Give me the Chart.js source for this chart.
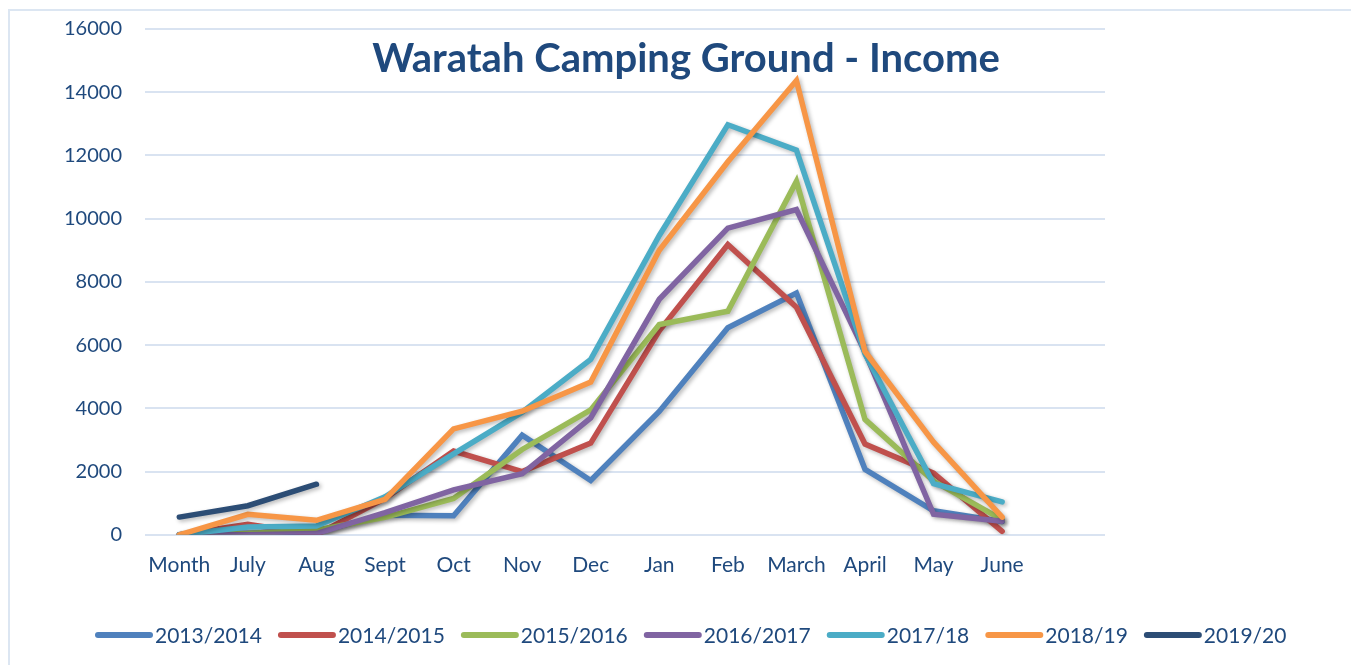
<!DOCTYPE html>
<html>
<head>
<meta charset="utf-8">
<script src="https://cdn.jsdelivr.net/npm/chart.js@4.4.1/dist/chart.umd.min.js"></script>
<style>
  html, body { margin: 0; padding: 0; background: #ffffff; }
  #wrap { position: relative; width: 1351px; height: 665px; overflow: hidden; }
  #frame { position: absolute; left: 8px; top: 9px; width: 1400px; height: 700px;
           border-left: 2px solid #DCE6F2; border-top: 2px solid #DCE6F2; box-sizing: border-box; }
  canvas { position: absolute; left: 0; top: 0; }
</style>
</head>
<body>
<div id="wrap">
  <div id="frame"></div>
  <canvas id="c" width="1351" height="665"></canvas>
</div>
<script>
const titleText = "Waratah Camping Ground - Income";
const categories = ["Month", "July", "Aug", "Sept", "Oct", "Nov", "Dec", "Jan", "Feb", "March", "April", "May", "June", ""];
const yTicks = [0, 2000, 4000, 6000, 8000, 10000, 12000, 14000, 16000];

const seriesNames = ["2013/2014", "2014/2015", "2015/2016", "2016/2017", "2017/18", "2018/19", "2019/20"];
const s2013 = [0, 50, 100, 620, 600, 3150, 1720, 3900, 6550, 7650, 2070, 760, 420, null];
const s2014 = [0, 330, 0, 1150, 2650, 2000, 2900, 6450, 9180, 7200, 2870, 1950, 110, null];
const s2015 = [0, 40, 150, 550, 1150, 2700, 3950, 6650, 7070, 11180, 3650, 1700, 480, null];
const s2016 = [0, 0, 40, 700, 1420, 1930, 3700, 7450, 9700, 10290, 5780, 650, 430, null];
const s2017 = [0, 250, 280, 1200, 2560, 3880, 5550, 9470, 12970, 12170, 5720, 1620, 1040, null];
const s2018 = [0, 650, 460, 1120, 3350, 3910, 4830, 9000, 11800, 14370, 5800, 2930, 560, null];
const s2019 = [560, 920, 1600, null, null, null, null, null, null, null, null, null, null, null];

const seriesValues = [s2013, s2014, s2015, s2016, s2017, s2018, s2019];
const seriesColors = ["#4F81BD", "#C0504D", "#9BBB59", "#8064A2", "#4BACC6", "#F79646", "#2C4D75"];

const textColor = "#1F497D";
const gridColor = "#D9E3F1";

const datasets = seriesNames.map((name, i) => ({
  label: name,
  data: seriesValues[i],
  borderColor: seriesColors[i],
  backgroundColor: seriesColors[i],
  borderWidth: 5.5,
  pointRadius: 0,
  pointHoverRadius: 0,
  tension: 0,
  fill: false,
  spanGaps: false,
  borderJoinStyle: "miter",
  borderCapStyle: "round",
  order: seriesNames.length - i
}));

const shadowPlugin = {
  id: "shadow",
  beforeDatasetDraw(chart) {
    const ctx = chart.ctx;
    ctx.save();
    ctx.shadowColor = "rgba(0,0,0,0.28)";
    ctx.shadowBlur = 4;
    ctx.shadowOffsetX = 2;
    ctx.shadowOffsetY = 2;
  },
  afterDatasetDraw(chart) {
    chart.ctx.restore();
  }
};

const titlePlugin = {
  id: "innerTitle",
  afterDraw(chart) {
    const ctx = chart.ctx;
    ctx.save();
    ctx.font = "bold 40px Lato";
    ctx.fillStyle = textColor;
    ctx.textAlign = "center";
    ctx.textBaseline = "alphabetic";
    ctx.fillText(titleText, 686, 72);
    ctx.restore();
  }
};

const legendPlugin = {
  id: "customLegend",
  afterDraw(chart) {
    const ctx = chart.ctx;
    ctx.save();
    ctx.font = "21px Lato";
    ctx.textBaseline = "middle";
    ctx.textAlign = "left";
    let x = 98;
    const y = 635;
    seriesNames.forEach((name, i) => {
      ctx.strokeStyle = seriesColors[i];
      ctx.lineWidth = 6;
      ctx.lineCap = "round";
      ctx.beginPath();
      ctx.moveTo(x, y);
      ctx.lineTo(x + 52, y);
      ctx.stroke();
      ctx.fillStyle = textColor;
      ctx.fillText(name, x + 57, y + 1);
      x += 57 + ctx.measureText(name).width + 19;
    });
    ctx.restore();
  }
};

new Chart(document.getElementById("c"), {
  type: "line",
  data: { labels: categories, datasets: datasets },
  plugins: [shadowPlugin, titlePlugin, legendPlugin],
  options: {
    responsive: false,
    animation: false,
    layout: { padding: { left: 0, right: 246, top: 29, bottom: 69 } },
    plugins: {
      title: { display: false },
      tooltip: { enabled: false },
      legend: { display: false }
    },
    scales: {
      x: {
        offset: true,
        grid: { display: false, drawTicks: false },
        border: { display: false },
        ticks: {
          color: textColor,
          font: { family: "Lato", size: 21 },
          padding: 18,
          maxRotation: 0,
          autoSkip: false
        }
      },
      y: {
        min: 0,
        max: 16000,
        afterFit(scale) { scale.width = 145; scale.paddingTop = 0; scale.paddingBottom = 0; },
        afterBuildTicks(scale) { scale.ticks = yTicks.map(v => ({ value: v })); },
        grid: { color: gridColor, lineWidth: 2, drawTicks: false },
        border: { display: false },
        ticks: {
          color: textColor,
          font: { family: "Lato", size: 20 },
          padding: 23,
          callback: (v) => String(v)
        }
      }
    }
  },
});
</script>
</body>
</html>
